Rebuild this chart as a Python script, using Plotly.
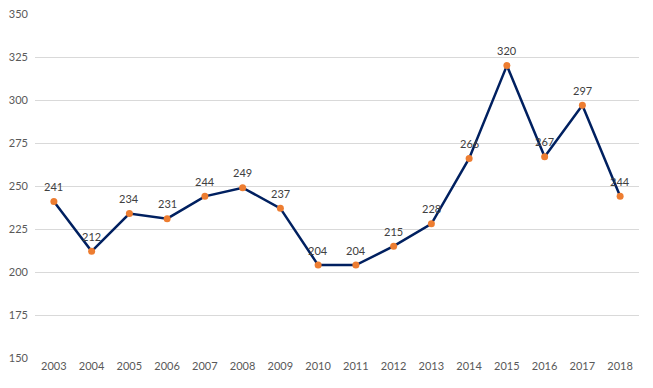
import plotly.graph_objects as go

years = list(range(2003, 2019))
values = [241, 212, 234, 231, 244, 249, 237, 204, 204, 215, 228, 266, 320, 267, 297, 244]
y_ticks = [150, 175, 200, 225, 250, 275, 300, 325, 350]

fig = go.Figure()
fig.add_trace(go.Scatter(
    x=years, y=values, mode="lines+markers",
    line=dict(color="#002060", width=2.5),
    marker=dict(color="#ED7D31", size=7),
    cliponaxis=False,
))
for yr, v in zip(years, values):
    fig.add_annotation(x=yr, y=v, text=str(v), showarrow=False, yshift=15,
                       font=dict(size=11, color="#404040"))
fig.update_layout(
    width=653, height=388,
    margin=dict(l=27, r=22, t=6, b=38, autoexpand=False),
    plot_bgcolor="white", paper_bgcolor="white",
    font=dict(family="Lato, Open Sans, sans-serif", size=11, color="#595959"),
    showlegend=False,
)
fig.update_xaxes(range=[years[0] - 0.5, years[-1] + 0.5], tickvals=years,
                 ticktext=[str(y) for y in years],
                 showgrid=False, showline=False, zeroline=False, ticks="", automargin=False,
                 tickfont=dict(size=11, color="#595959"))
fig.update_yaxes(range=[150, 350], tickvals=y_ticks, showgrid=True, gridcolor="#D9D9D9",
                 gridwidth=1, zeroline=False, showline=False, ticks="", automargin=False,
                 ticklabeloverflow="allow",
                 tickfont=dict(size=11, color="#595959"), ticklabelstandoff=6)
fig.write_html("out.html")
